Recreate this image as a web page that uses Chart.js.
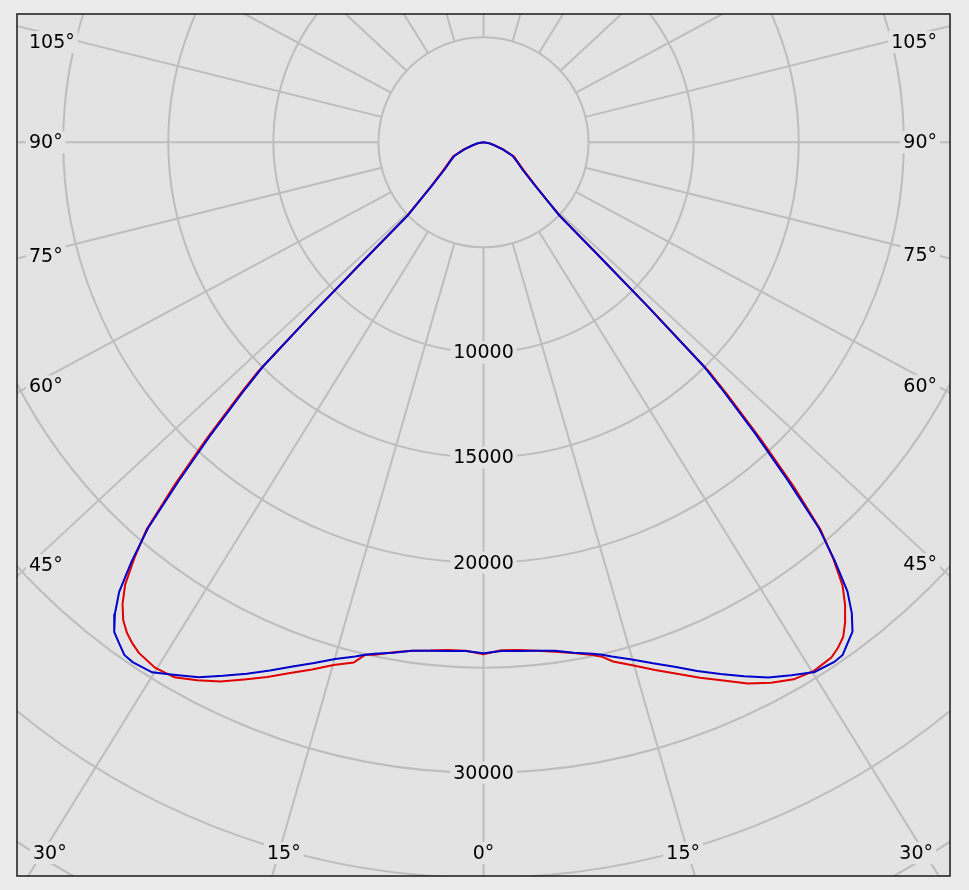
<!DOCTYPE html>
<html>
<head>
<meta charset="utf-8">
<script src="https://cdn.jsdelivr.net/npm/chart.js@4.4.1/dist/chart.umd.min.js"></script>
<style>
  html, body { margin: 0; padding: 0; background: #ebebeb; }
  #wrap { width: 969px; height: 890px; }
</style>
</head>
<body>
<div id="wrap"><canvas id="polarChart"></canvas></div>
<script>
// gamma angles (deg from nadir), read on one side; left side is mirrored as negative
const gammaDeg = [0, 2, 4, 6, 8, 10, 12, 13, 14, 16, 18, 20, 22, 24, 26, 28, 30, 32, 34, 35, 36, 37, 38, 39, 40,
                  41, 42, 43, 44, 44.5, 45, 45.5, 46, 48, 50, 55, 60, 65, 70, 75, 80, 90];

// luminous intensity (cd) per gamma
const blueLeft  = [24330, 24240, 24280, 24350, 24450, 24680, 24900, 25050, 25240, 25600, 26070, 26560, 27130, 27700, 28270, 28850, 29290, 29760, 29860, 29800, 29500, 29200, 28490, 27550, 26050,
                   24320, 21620, 18980, 16300, 14970, 11000, 7300, 5000, 3890, 3190, 2260, 1840, 1530, 950, 500, 280, 0];
const blueRight = [24330, 24240, 24280, 24350, 24450, 24680, 24900, 25050, 25240, 25620, 26090, 26580, 27150, 27720, 28290, 28870, 29300, 29740, 29850, 29800, 29480, 29180, 28470, 27520, 26000,
                   24300, 21600, 18950, 16300, 14950, 11000, 7300, 5000, 3890, 3190, 2260, 1840, 1530, 950, 500, 280, 0];
const redLeft   = [24380, 24230, 24240, 24340, 24450, 24660, 24950, 25050, 25530, 25900, 26400, 26900, 27460, 28000, 28570, 29020, 29420, 29500, 29330, 29130, 28870, 28490, 27900, 27100, 25850,
                   24450, 22000, 19400, 16700, 15300, 11300, 7500, 5150, 3950, 3250, 2350, 1900, 1600, 1000, 520, 290, 0];
const redRight  = [24380, 24200, 24240, 24350, 24500, 24700, 24960, 25150, 25480, 25920, 26420, 26930, 27500, 28060, 28680, 29150, 29530, 29680, 29600, 29400, 29120, 28600, 27950, 27150, 25900,
                   24450, 22050, 19400, 16700, 15300, 11300, 7500, 5150, 3950, 3250, 2350, 1900, 1600, 1000, 520, 290, 0];

const ringValues = [5000, 10000, 15000, 20000, 25000, 30000, 35000, 40000, 45000];
const ringLabels = [10000, 15000, 20000, 30000];
const angleLabels = [0, 15, 30, 45, 60, 75, 90, 105];
const rayStep = 15;
const RAY_STRETCH = 1.075;   // the original draws its spokes slightly widened

const plotBg = '#e3e3e3';
const gridColor = '#bdbdbd';
const labelFont = '19px "DejaVu Sans"';

function toXY(gammas, values, side) {
  return gammas.map((g, i) => {
    const rad = side * g * Math.PI / 180;
    return { x: values[i] * Math.sin(rad), y: -values[i] * Math.cos(rad) };
  });
}

function curve(left, right) {
  const l = toXY(gammaDeg, left, -1).reverse();
  const r = toXY(gammaDeg, right, 1);
  return l.concat(r);
}

function rayDir(g) {
  const rad = g * Math.PI / 180;
  const dx = RAY_STRETCH * Math.sin(rad), dy = Math.cos(rad);
  const n = Math.hypot(dx, dy);
  return { x: dx / n, y: dy / n };
}

function drawLabel(ctx, text, x, y, align) {
  ctx.font = labelFont;
  const w = ctx.measureText(text).width;
  let left = x - w / 2;
  if (align === 'left') left = x;
  if (align === 'right') left = x - w;
  ctx.fillStyle = plotBg;
  ctx.fillRect(left - 3, y - 11, w + 6, 22);
  ctx.fillStyle = '#000';
  ctx.textAlign = 'left';
  ctx.textBaseline = 'middle';
  ctx.fillText(text, left, y + 1);
  return w;
}

const polarGrid = {
  id: 'polarGrid',
  beforeDatasetsDraw(chart) {
    const { ctx, chartArea: a, scales: { x, y } } = chart;
    const cx = x.getPixelForValue(0), cy = y.getPixelForValue(0);
    const px = v => x.getPixelForValue(v) - cx;
    ctx.save();
    ctx.fillStyle = plotBg;
    ctx.fillRect(a.left, a.top, a.right - a.left, a.bottom - a.top);
    ctx.beginPath();
    ctx.rect(a.left, a.top, a.right - a.left, a.bottom - a.top);
    ctx.clip();

    ctx.strokeStyle = gridColor;
    ctx.lineWidth = 2;
    ringValues.forEach(v => {
      ctx.beginPath();
      ctx.arc(cx, cy, px(v), 0, Math.PI * 2);
      ctx.stroke();
    });
    const r0 = px(ringValues[0]);
    for (let g = 0; g < 360; g += rayStep) {
      const d = rayDir(g);
      ctx.beginPath();
      ctx.moveTo(cx + d.x * r0, cy + d.y * r0);
      ctx.lineTo(cx + d.x * 3000, cy + d.y * 3000);
      ctx.stroke();
    }

    // intensity labels on the nadir axis
    ringLabels.forEach(v => drawLabel(ctx, String(v), cx, cy + px(v), 'center'));

    // angle labels where the spokes leave the plot
    const L = a.left + 12, R = a.right - 13, B = a.bottom - 23, T = a.top + 28;
    angleLabels.forEach(g => {
      const sides = g === 0 ? [1] : [-1, 1];
      sides.forEach(side => {
        const d = rayDir(g);
        const txt = g + '\u00b0';
        if (d.x === 0) { drawLabel(ctx, txt, cx, B, 'center'); return; }
        const tSide = (side < 0 ? cx - L : R - cx) / d.x;
        const tBottom = d.y > 0 ? (B - cy) / d.y : Infinity;
        if (tBottom <= tSide) {
          ctx.font = labelFont;
          const w = ctx.measureText(txt).width;
          let lx = cx + side * (d.x * tBottom - 5);
          lx = Math.max(L + w / 2 + 4, Math.min(R - w / 2 - 4, lx));
          drawLabel(ctx, txt, lx, B, 'center');
        } else {
          const ly = Math.max(T, Math.min(B, cy + d.y * tSide));
          drawLabel(ctx, txt, side < 0 ? L : R, ly, side < 0 ? 'left' : 'right');
        }
      });
    });
    ctx.restore();
  },
  afterDatasetsDraw(chart) {
    const { ctx, chartArea: a } = chart;
    ctx.save();
    ctx.strokeStyle = '#1a1a1a';
    ctx.lineWidth = 1.5;
    ctx.strokeRect(a.left, a.top, a.right - a.left, a.bottom - a.top);
    ctx.restore();
  }
};

const config = {
  type: 'scatter',
  data: {
    datasets: [
      {
        label: 'C0-C180',
        data: curve(blueLeft, blueRight),
        borderColor: 'rgb(0, 0, 205)',
        backgroundColor: 'rgb(0, 0, 205)',
        order: 0
      },
      {
        label: 'C90-C270',
        data: curve(redLeft, redRight),
        borderColor: 'rgb(225, 0, 0)',
        backgroundColor: 'rgb(225, 0, 0)',
        order: 1
      }
    ]
  },
  options: {
    animation: false,
    responsive: true,
    maintainAspectRatio: false,
    layout: { padding: { left: 17, top: 14, right: 19, bottom: 14 } },
    plugins: {
      legend: { display: false },
      tooltip: { enabled: false }
    },
    datasets: {
      scatter: { showLine: true, pointRadius: 0, borderWidth: 2, tension: 0 }
    },
    scales: {
      x: { type: 'linear', min: -22200, max: 22200, display: false },
      y: { type: 'linear', min: -34940, max: 6110, display: false }
    }
  },
  plugins: [polarGrid]
};

var polarChart;

window.addEventListener('load', _ => {
  const ctx = document.getElementById('polarChart').getContext('2d');
  polarChart = new Chart(ctx, config);
});
</script>
</body>
</html>
